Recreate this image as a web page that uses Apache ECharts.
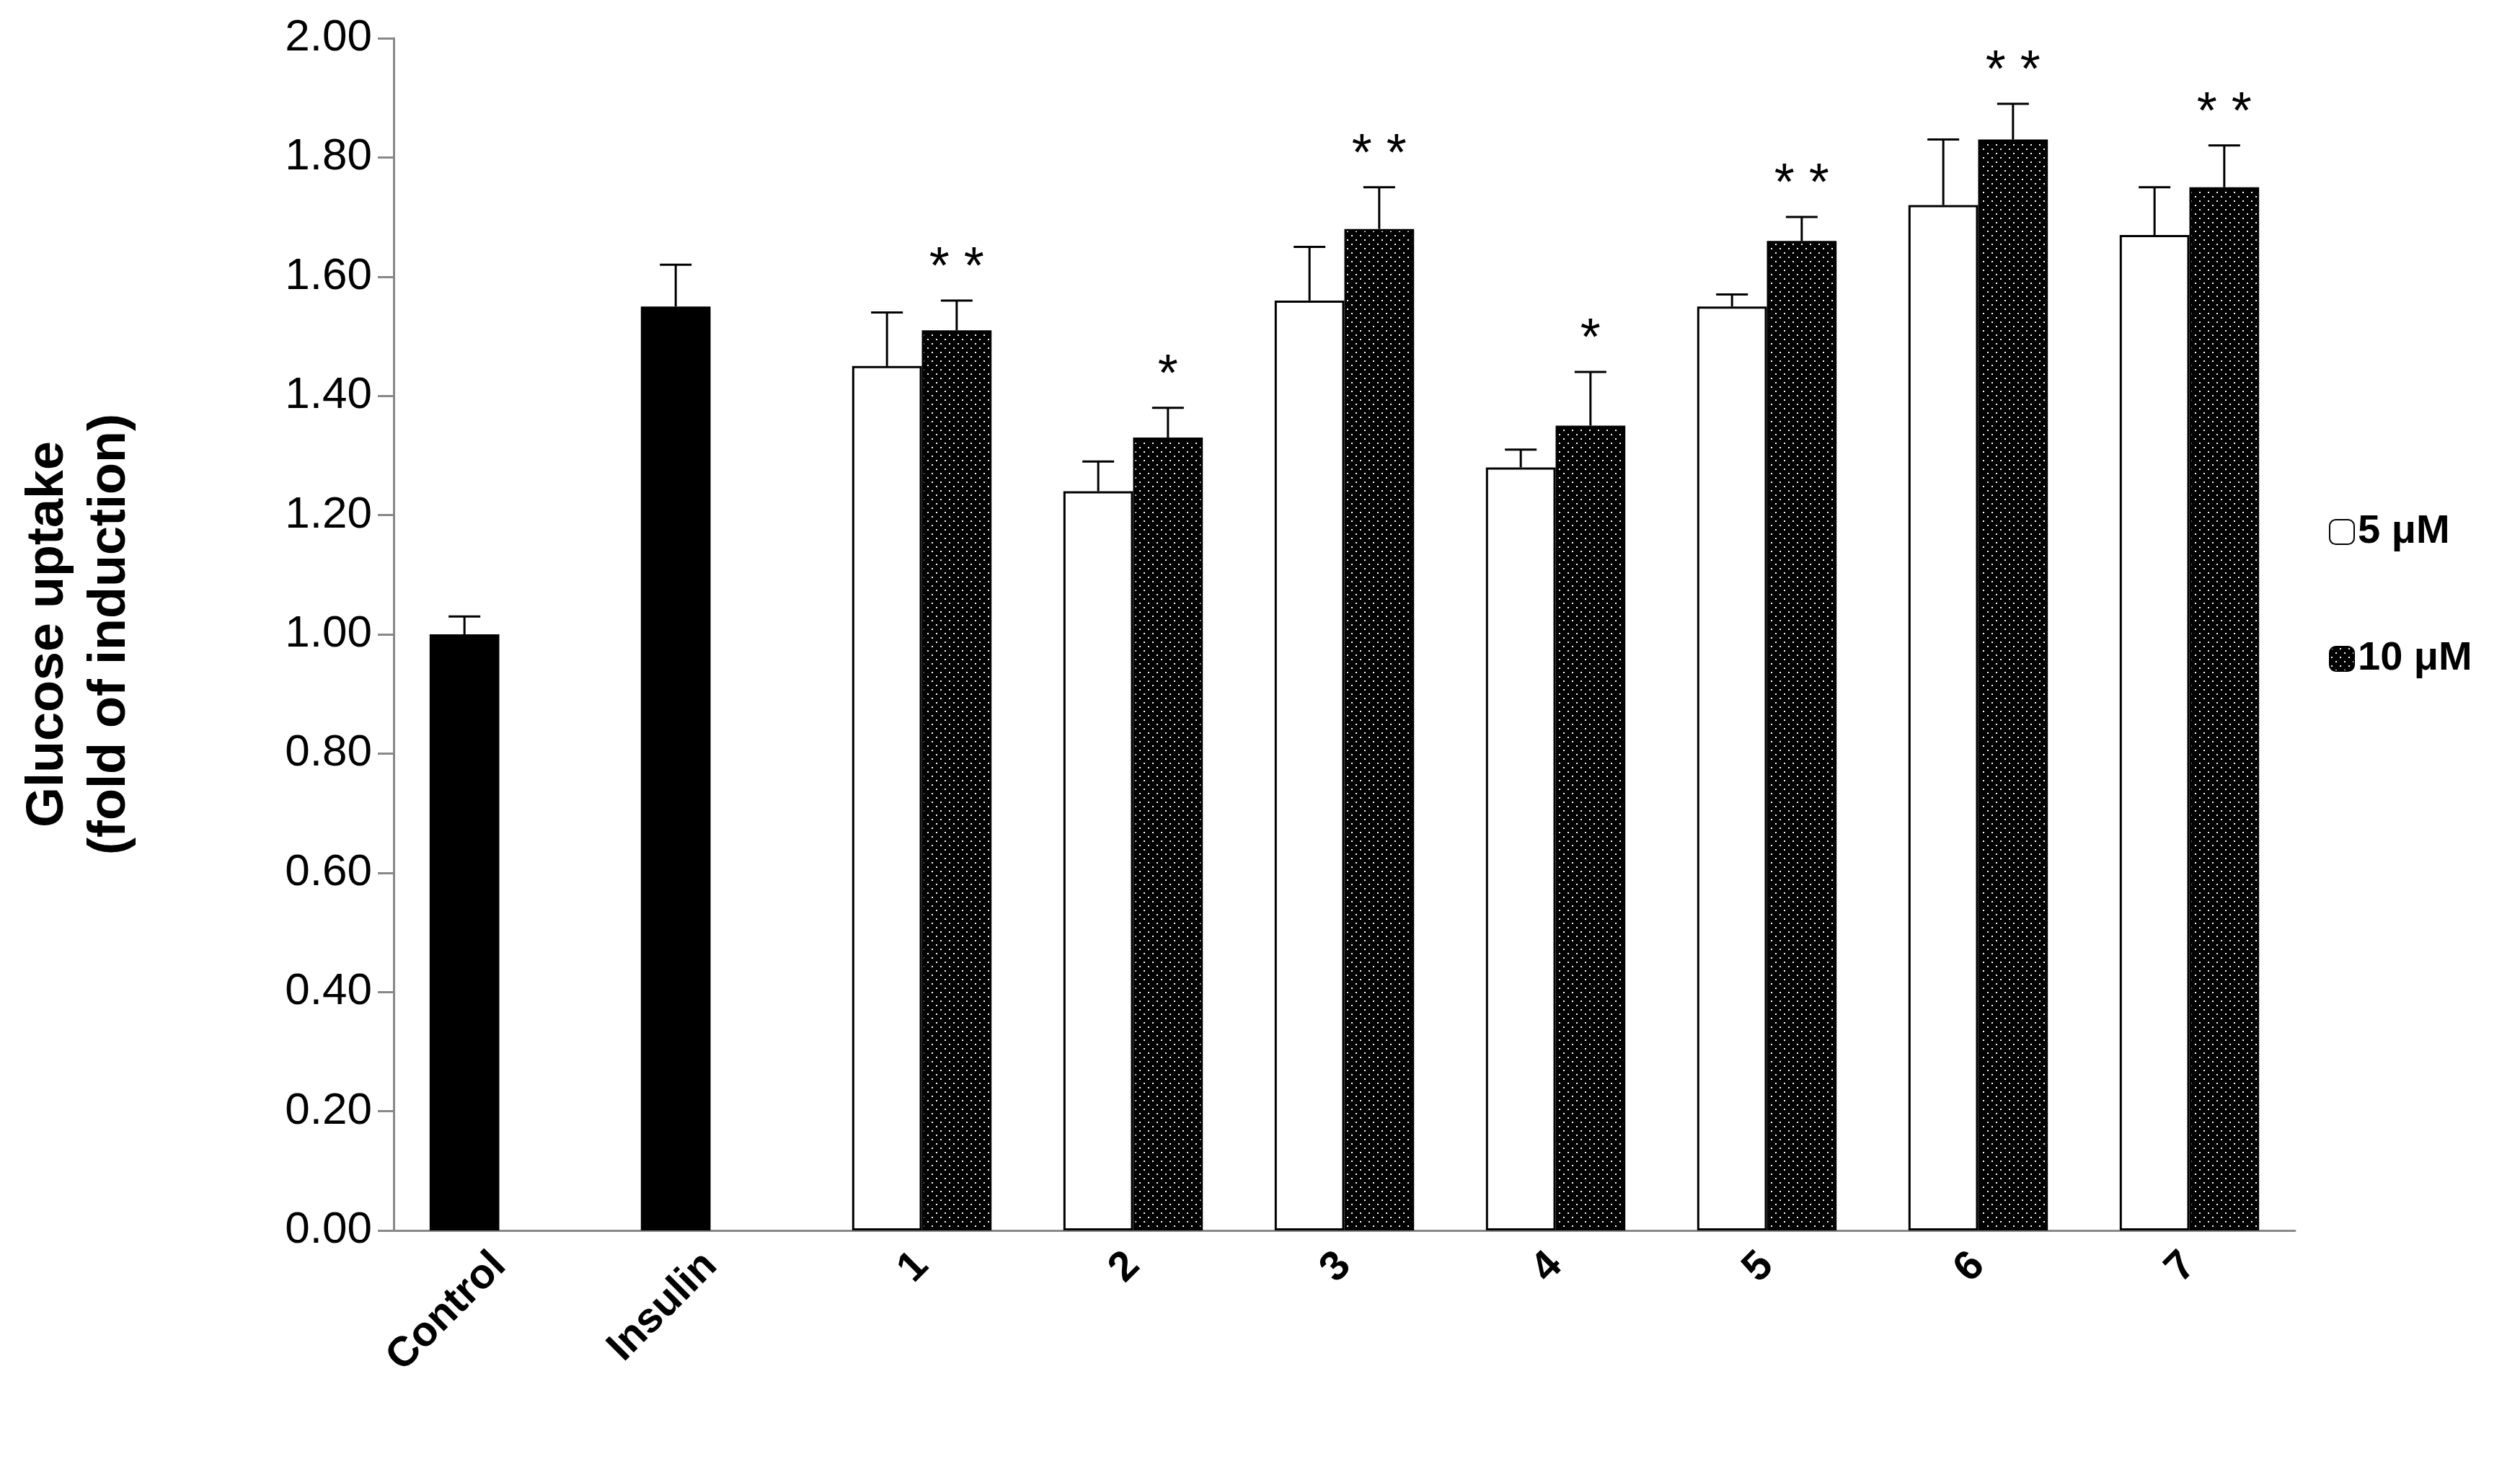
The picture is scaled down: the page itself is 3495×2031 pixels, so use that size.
<!DOCTYPE html>
<html>
<head>
<meta charset="utf-8">
<script src="https://cdn.jsdelivr.net/npm/echarts@6/dist/echarts.min.js"></script>
<style>html,body{margin:0;background:#fff}#c{width:3495px;height:2031px}</style>
</head>
<body>
<div id="c"></div>
<script>
var categories = ['Control', 'Insulin', '1', '2', '3', '4', '5', '6', '7'];
var low = [1.00, 1.55, 1.45, 1.24, 1.56, 1.28, 1.55, 1.72, 1.67];
var lowErr = [0.03, 0.07, 0.09, 0.05, 0.09, 0.03, 0.02, 0.11, 0.08];
var high = [null, null, 1.51, 1.33, 1.68, 1.35, 1.66, 1.83, 1.75];
var highErr = [null, null, 0.05, 0.05, 0.07, 0.09, 0.04, 0.06, 0.07];
var stars = ['', '', '**', '*', '**', '*', '**', '**', '**'];

// black fill with fine white dots
var pat = document.createElement('canvas');
pat.width = 12; pat.height = 12;
var g = pat.getContext('2d');
g.fillStyle = '#000'; g.fillRect(0, 0, 12, 12);
g.fillStyle = '#fff'; g.fillRect(2, 2, 2, 2); g.fillRect(8, 8, 2, 2);
var dotted = { image: pat, repeat: 'repeat' };

var BW = 0.33;
var errData = [];
for (var i = 0; i < categories.length; i++) {
    errData.push([i, low[i], lowErr[i], -1, '']);
    if (high[i] != null) errData.push([i, high[i], highErr[i], 1, stars[i]]);
}

var chart = echarts.init(document.getElementById('c'));
chart.setOption({
    animation: false,
    textStyle: { fontFamily: 'Liberation Sans, Arial, sans-serif' },
    grid: { left: 546, right: 312, top: 53, bottom: 324 },
    legend: {
        orient: 'vertical', left: 3225, top: 705, itemGap: 120,
        itemWidth: 34, itemHeight: 34,
        textStyle: { fontSize: 56, fontWeight: 'bold', color: '#000' },
        data: ['5 μM', '10 μM']
    },
    xAxis: {
        type: 'category', data: categories,
        axisLine: { lineStyle: { color: '#888', width: 3 } },
        axisTick: { length: 22, lineStyle: { color: '#888', width: 3 } },
        axisLabel: { rotate: 45, fontSize: 58, fontWeight: 'bold', color: '#000', margin: 40 }
    },
    yAxis: {
        type: 'value', min: 0, max: 2, interval: 0.2,
        name: 'Glucose uptake\n(fold of induction)',
        nameLocation: 'middle', nameGap: 350, nameRotate: 90,
        nameTextStyle: { fontSize: 72, fontWeight: 'bold', color: '#000', lineHeight: 86 },
        axisLine: { show: true, lineStyle: { color: '#888', width: 3 } },
        axisTick: { show: true, length: 22, lineStyle: { color: '#888', width: 3 } },
        splitLine: { show: false },
        axisLabel: { fontSize: 62, color: '#000', margin: 30, formatter: function (v) { return v.toFixed(2); } }
    },
    series: [{
        name: '5 μM', type: 'bar', barGap: 0, barCategoryGap: '34%',
        itemStyle: { color: '#fff', borderColor: '#000', borderWidth: 3 },
        data: low.map(function (v, i) {
            return i < 2 ? { value: v, itemStyle: { color: '#000' } } : v;
        })
    }, {
        name: '10 μM', type: 'bar',
        itemStyle: { color: dotted, borderColor: '#000', borderWidth: 3 },
        data: high.map(function (v) { return v == null ? '-' : v; })
    }, {
        type: 'custom', z: 10,
        data: errData,
        renderItem: function (params, api) {
            var i = api.value(0), v = api.value(1), e = api.value(2), side = api.value(3);
            var cw = api.size([1, 0])[0];
            var bw = cw * BW;
            var p0 = api.coord([i, v]);
            var p1 = api.coord([i, v + e]);
            var x = p0[0] + side * bw / 2;
            var cap = 22;
            var ch = [
                { type: 'line', shape: { x1: x, y1: p0[1], x2: x, y2: p1[1] }, style: { stroke: '#000', lineWidth: 3 } },
                { type: 'line', shape: { x1: x - cap, y1: p1[1], x2: x + cap, y2: p1[1] }, style: { stroke: '#000', lineWidth: 3 } }
            ];
            var s = api.value(4);
            if (s) ch.push({ type: 'text', style: { text: s.split('').join(' '), x: x, y: p1[1] - 8,
                align: 'center', verticalAlign: 'bottom', fontSize: 72, fill: '#000',
                fontFamily: 'Liberation Sans, Arial, sans-serif' } });
            return { type: 'group', children: ch };
        }
    }]
});
</script>
</body>
</html>
